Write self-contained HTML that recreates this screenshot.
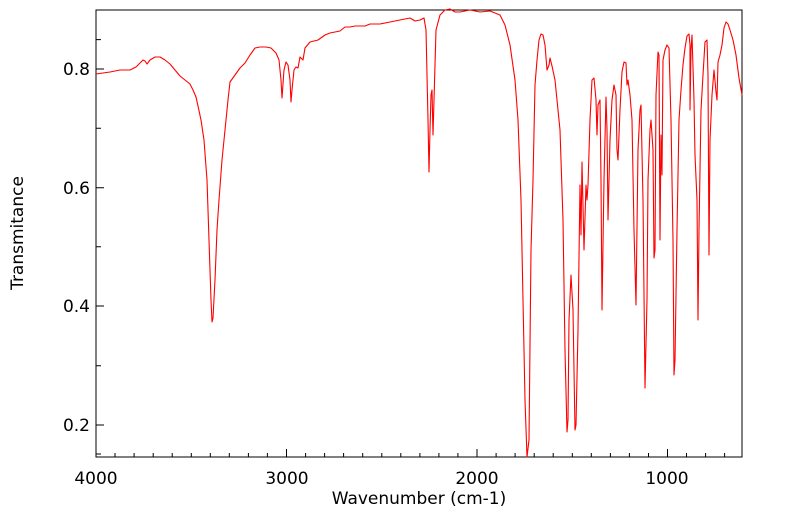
<!DOCTYPE html>
<html><head><meta charset="utf-8"><style>
body{margin:0;background:#fff}
svg{display:block;font-family:"DejaVu Sans","Liberation Sans",sans-serif}
</style></head><body>
<svg width="799" height="516" viewBox="0 0 799 516">
<rect x="96" y="10" width="646" height="447" fill="none" stroke="#000" stroke-width="1"/>
<g stroke="#000" stroke-width="1">
<path d="M96 425h8M96 306h8M96 187.7h8M96 69h8M96 365.7h5M96 246.7h5M96 128.3h5M96 39.6h5M96 454h5"/>
</g>
<g id="xticks" stroke="#000" stroke-width="1"></g>
<g font-size="17" fill="#000" text-anchor="end">
<text x="90" y="431">0.2</text><text x="90" y="312">0.4</text><text x="90" y="194">0.6</text><text x="90" y="75">0.8</text>
</g>
<g font-size="17" fill="#000" text-anchor="middle">
<text x="96" y="484">4000</text><text x="287" y="484">3000</text><text x="477" y="484">2000</text><text x="667" y="484">1000</text>
<text x="419" y="504">Wavenumber (cm-1)</text>
<text transform="translate(23,233) rotate(-90)">Transmitance</text>
</g>
<polyline fill="none" stroke="#ff0000" stroke-width="1.1" stroke-linejoin="round" points="96,74 110,72 120,70 130,70 136,67 140,63 143,60 145,61 147,64 150,60 155,57 160,57 165,60 170,64 175,70 180,76 185,80 190,84 193,90 196,97 198,106 201,120 204,140 207,180 209,240 211,300 212,322 213,318 215,280 217,230 219,200 222,160 225,130 228,100 230,82 235,75 240,68 245,63 250,55 255,48 260,47 266,47 271,48 276,53 279,60 281,80 282,98 284,70 286,62 288,65 290,80 291,102 292,90 294,70 296,67 298,68 300,57 303,60 305,48 310,42 318,40 325,35 330,33 340,31 345,27 350,27 355,26 365,26 370,24 380,24 390,22 400,20 410,18 415,21 420,20 424,18 426,30 428,120 429,172 430,130 431,95 432,90 433,135 434,100 436,30 440,15 445,10 450,9 455,12 460,12 470,10 480,12 490,11 500,15 505,25 510,45 515,80 518,120 521,200 523,300 525,400 527,457 529,440 531,250 533,180 535,85 537,60 539,40 541,34 543,35 545,45 547,70 549,65 550,58 552,66 555,80 560,130 563,220 565,350 567,432 568,420 569,320 571,275 573,310 575,430 576,425 578,330 580,185 581,235 582,162 584,250 586,185 587,200 588,185 590,120 592,80 594,78 596,100 597,135 598,105 600,100 601,180 602,310 604,180 606,97 607,130 608,220 610,140 612,100 614,85 616,95 617,150 618,160 620,110 622,72 624,62 626,63 627,85 628,80 630,95 632,120 634,230 636,305 638,150 640,110 641,105 643,200 645,388 647,300 648,180 650,130 651,120 653,150 654,258 655,250 656,95 658,52 659,55 660,240 661,135 662,175 663,60 665,50 667,45 669,48 671,120 673,240 674,375 675,360 677,230 679,120 681,90 683,65 685,48 687,36 689,34 690,45 690,110 691,50 692,35 694,100 695,155 697,200 698,320 699,230 701,110 703,75 705,42 707,40 708,75 709,255 710,140 712,95 714,70 716,92 717,100 718,62 720,55 722,45 724,28 726,22 728,24 730,30 733,40 736,55 739,78 742,95"/>
</svg>
<script>
var g=document.getElementById('xticks'),d='';
for(var w=4000;w>=650;w-=100){var x=96+(4000-w)*0.1905;var L=(w%1000==0)?8:4;d+='M'+x.toFixed(1)+' 457v-'+L;}
var p=document.createElementNS('http://www.w3.org/2000/svg','path');p.setAttribute('d',d);g.appendChild(p);
</script>
</body></html>
